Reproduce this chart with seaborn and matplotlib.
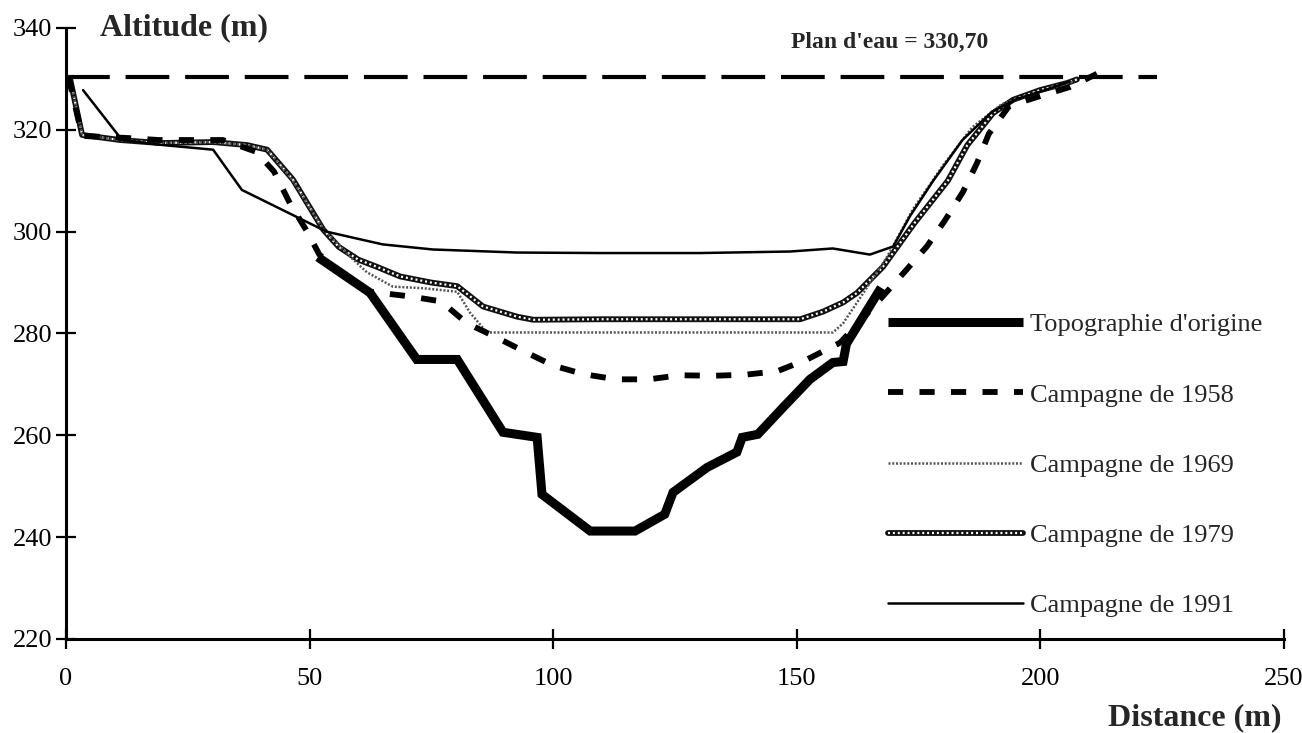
import matplotlib
matplotlib.use("Agg")
import matplotlib.pyplot as plt
import seaborn as sns
import pandas as pd
from matplotlib.lines import Line2D
from matplotlib.legend_handler import HandlerTuple

# ---------------- data ----------------
plan_eau_label = "Plan d'eau = 330,70"
plan_eau_x = [0, 224]
plan_eau_y = [330.4, 330.4]

topo_x = [51.7, 62.4, 72.0, 80.3, 89.7, 96.7, 97.7, 107.6, 116.8, 122.9, 124.6,
          131.6, 137.7, 138.8, 142.0, 147.2, 152.7, 157.4, 159.5, 160.2, 167.3]
topo_y = [295.0, 288.0, 274.9, 274.9, 260.6, 259.6, 248.4, 241.2, 241.2, 244.5, 248.8,
          253.7, 256.7, 259.6, 260.2, 265.5, 271.0, 274.3, 274.5, 278.0, 289.0]

c1958_x = [0.5, 3.3, 12.5, 19, 25.5, 32.2, 39, 42.7, 46, 49.5, 52, 57, 62.5, 70.5,
           77, 82.3, 88, 94, 100, 106.3, 112.9, 119.6, 126, 132.8, 139.4, 146,
           152.1, 158.9, 165.5, 172.4, 176.7, 180.4, 184.1, 187, 189.4, 193.6,
           199.5, 206, 211.6]
c1958_y = [330.4, 318.8, 318.4, 318, 318, 318, 315.7, 311.8, 305.5, 300, 295.5,
           291.5, 288.2, 287.3, 286.3, 282, 279.4, 276.5, 273.7, 272, 271, 271,
           271.8, 271.7, 271.9, 272.6, 274.9, 278.2, 285, 292.4, 297.1, 302.2,
           307.8, 313.5, 319.2, 324.7, 326.5, 328.4, 331]

c1969_x = [0.8, 3.3, 11, 19, 30, 37, 41.3, 46.6, 52.8, 55.6, 58.3, 61.8, 67.1,
           73.3, 80.3, 83, 86.4, 100, 120, 140, 157.4, 159.5, 163, 168.5, 173.9,
           180, 186, 192, 200, 207]
c1969_y = [330.2, 319, 318, 317.4, 317.6, 317, 316.1, 310, 300.5, 297.8, 295.1,
           292, 289.2, 288.9, 288.2, 284, 280.2, 280.2, 280.2, 280.2, 280.2, 282,
           287, 295, 304.5, 313, 320.5, 325, 327.5, 329.5]

c1979_x = [0.8, 3.3, 11.1, 19.3, 30.2, 37.2, 41.3, 46.6, 52.8, 56, 60, 63.8, 68.6,
           75, 80.3, 85.6, 92.6, 95.9, 110, 130, 150.7, 155.4, 159.5, 162.4,
           167.7, 174, 181, 185, 190.3, 194.4, 199.9, 205.5, 207.5]
c1979_y = [330.2, 319, 318, 317.4, 317.6, 317, 316.1, 310.2, 300.4, 297, 294.5,
           293.1, 291.2, 290, 289.3, 285.3, 283.3, 282.7, 282.8, 282.8, 282.8,
           284.3, 286.1, 288, 293.1, 301.5, 310, 317, 323.3, 325.9, 327.8, 329.2,
           329.9]

c1991_x = [3.5, 11.5, 20, 30.2, 36.1, 45, 53.5, 59, 65, 75.3, 92.6, 110, 130,
           148.6, 157.4, 165, 169.8, 173.2, 178, 184, 190, 195, 201, 206]
c1991_y = [327.8, 318, 317, 316.1, 308.2, 304, 300, 298.8, 297.5, 296.5, 295.9,
           295.8, 295.8, 296.1, 296.7, 295.5, 297.1, 303, 310, 318, 323.5, 326,
           327.8, 329.5]

labels = ["Topographie d'origine", "Campagne de 1958", "Campagne de 1969",
          "Campagne de 1979", "Campagne de 1991"]
x_ticks = [0, 50, 100, 150, 200, 250]
y_ticks = [220, 240, 260, 280, 300, 320, 340]

# ---------------- style ----------------
sns.set_style("ticks")
plt.rcParams['font.family'] = ['Liberation Serif', 'DejaVu Serif']

fig = plt.figure(figsize=(13.02, 7.33), dpi=100)
ax = fig.add_axes([66/1302, 1-639/733, (1284-66)/1302, (639-28)/733])

def draw(x, y, **kw):
    df = pd.DataFrame({"x": x, "y": y})
    sns.lineplot(data=df, x="x", y="y", ax=ax, sort=False, estimator=None, **kw)
    return ax.lines[-1]

# plan d'eau
l = draw(plan_eau_x, plan_eau_y, color="black", linewidth=3.0)
l.set_dashes((10.5, 3.8))

# 1979 rope-like line (black with white dots)
draw(c1979_x, c1979_y, color="#111111", linewidth=4.2)
l = draw(c1979_x, c1979_y, color="white", linewidth=1.6)
l.set_dashes((0.9, 1.3))

# 1969 fine dotted grey
l = draw(c1969_x, c1969_y, color="#555555", linewidth=1.8)
l.set_dashes((0.8, 0.7))

# 1991 thin solid
draw(c1991_x, c1991_y, color="black", linewidth=1.8)

# 1958 dashed
l = draw(c1958_x, c1958_y, color="black", linewidth=4.2)
l.set_dashes((2.6, 2.8))
l.set_dash_capstyle("butt")

# original topography
l = draw(topo_x, topo_y, color="black", linewidth=6.5)
l.set_solid_joinstyle("miter")
l.set_solid_capstyle("butt")

ax.set_xlim(0, 250)
ax.set_ylim(220, 340)
ax.set_xticks(x_ticks)
ax.set_yticks(y_ticks)
ax.set_xlabel("")
ax.set_ylabel("")
sns.despine(ax=ax)
for s in ["left", "bottom"]:
    ax.spines[s].set_linewidth(2.2)
    ax.spines[s].set_color("black")
ax.tick_params(axis="both", direction="inout", length=14, width=1.6,
               colors="black", labelsize=19)
ax.tick_params(axis="y", pad=3)
ax.tick_params(axis="x", pad=14)

# texts
fig.text(100/1302, 1-28/733, "Altitude (m)", fontsize=23, fontweight="bold",
         ha="left", va="center")
fig.text(1282/1302, 1-718/733, "Distance (m)", fontsize=23, fontweight="bold",
         ha="right", va="center")
fig.text(890/1302, 1-42/733, plan_eau_label, fontsize=17, fontweight="bold",
         ha="center", va="center")

# legend
h_topo = Line2D([], [], color="black", linewidth=6.5, solid_capstyle="butt")
h_58 = Line2D([], [], color="black", linewidth=4.2, dashes=(2.6, 2.8))
h_69 = Line2D([], [], color="#555555", linewidth=1.8, dashes=(0.8, 0.7))
h_79a = Line2D([], [], color="#111111", linewidth=4.2)
h_79b = Line2D([], [], color="white", linewidth=1.6, dashes=(0.9, 1.3))
h_91 = Line2D([], [], color="black", linewidth=1.8)
leg = fig.legend([h_topo, h_58, h_69, (h_79a, h_79b), h_91], labels,
                 handler_map={tuple: HandlerTuple(ndivide=1)},
                 loc="upper left", bbox_to_anchor=(888/1302, 1-313/733),
                 bbox_transform=fig.transFigure, frameon=False, fontsize=19,
                 handlelength=5.1, handletextpad=0.3, labelspacing=1.77,
                 borderpad=0, borderaxespad=0)

fig.savefig("out.png", dpi=100)
